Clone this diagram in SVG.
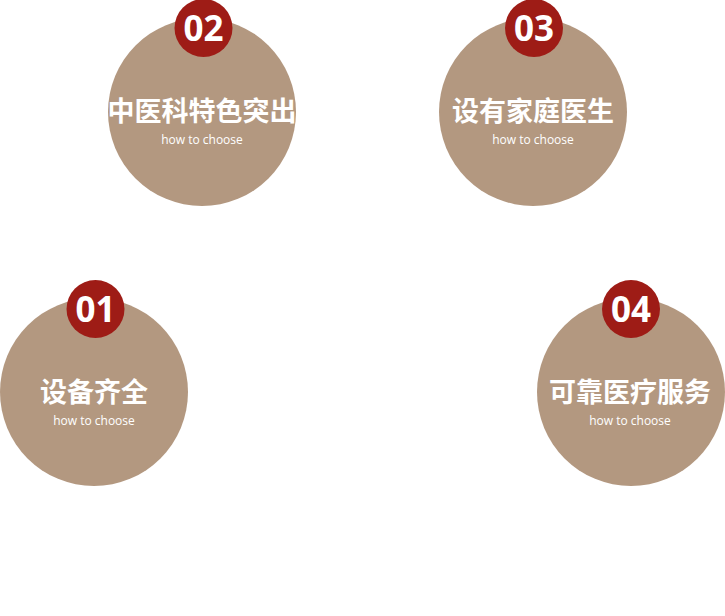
<svg xmlns="http://www.w3.org/2000/svg" width="725" height="616" viewBox="0 0 725 616">
<style>
.big{fill:#b39880}
.badge{fill:#9e1c16}
.num{fill:#fff;font-family:"Open Sans","Noto Sans",sans-serif;font-weight:bold;font-size:35px;text-anchor:middle}
.title{fill:#fff;font-family:"Noto Sans CJK SC",sans-serif;font-weight:bold;font-size:27px;text-anchor:middle}
.sub{fill:#fff;font-family:"Open Sans","Noto Sans",sans-serif;font-size:12px;text-anchor:middle}
</style>
<rect width="725" height="616" fill="#fff"/>
<g id="node-02">
<circle class="big" cx="202" cy="112" r="94"/>
<circle class="badge" cx="203.5" cy="28" r="29"/>
<text class="num" x="203.5" y="41">02</text>
<text class="title" x="202" y="121">中医科特色突出</text>
<text class="sub" x="202" y="144">how to choose</text>
</g>
<g id="node-03">
<circle class="big" cx="533" cy="112" r="94"/>
<circle class="badge" cx="534" cy="28" r="29"/>
<text class="num" x="534" y="41">03</text>
<text class="title" x="533" y="121">设有家庭医生</text>
<text class="sub" x="533" y="144">how to choose</text>
</g>
<g id="node-01">
<circle class="big" cx="94" cy="392" r="94"/>
<circle class="badge" cx="95.5" cy="309" r="29"/>
<text class="num" x="95.5" y="322">01</text>
<text class="title" x="94" y="402">设备齐全</text>
<text class="sub" x="94" y="425">how to choose</text>
</g>
<g id="node-04">
<circle class="big" cx="631" cy="392" r="94"/>
<circle class="badge" cx="631" cy="309" r="29"/>
<text class="num" x="631" y="322">04</text>
<text class="title" x="630" y="402">可靠医疗服务</text>
<text class="sub" x="630" y="425">how to choose</text>
</g>
<g id="connectors"></g>
</svg>
